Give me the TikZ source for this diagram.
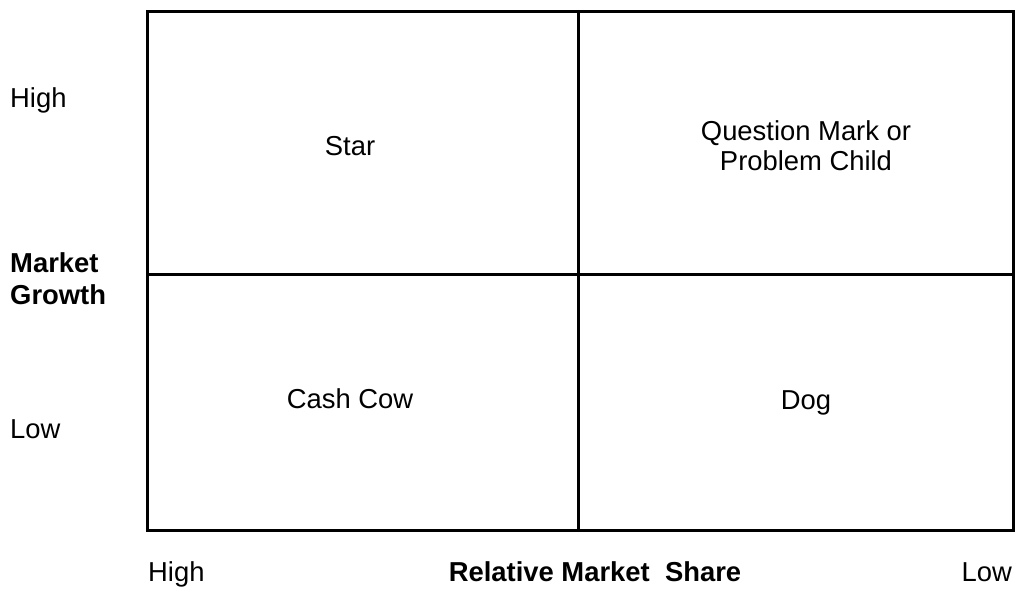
\documentclass[tikz,border=0pt]{standalone}
\usepackage{fontspec}
\setmainfont{Liberation Sans}
\begin{document}
\begin{tikzpicture}[x=1bp,y=-1bp,
  lbl/.style={font=\fontsize{27.5}{31}\selectfont, inner sep=0pt, align=center},
  lblb/.style={lbl, font=\fontsize{27.5}{33}\selectfont\bfseries},
  grid/.style={line width=3bp, black}]
\useasboundingbox (0,0) rectangle (1024,598);
\draw[grid] (147,12) rectangle (1013,530);
\coordinate (mt) at (578,12);
\coordinate (mb) at (578,530);
\coordinate (ml) at (147,274);
\coordinate (mr) at (1013,274);
\draw[grid] (mt) -- (mb);
\draw[grid] (ml) -- (mr);
\node[lbl, anchor=base west] (yhigh) at (10,108) {High};
\node[lblb, anchor=base west, align=left] (ygrowth) at (10,305) {Market\\Growth};
\node[lbl, anchor=base west] (ylow) at (10,438) {Low};
\node[lbl, anchor=base] (star) at (350,156) {Star};
\node[lbl, anchor=base] (qm) at (806,171) {Question Mark or\\Problem Child};
\node[lbl, anchor=base] (cow) at (350,408) {Cash Cow};
\node[lbl, anchor=base] (dog) at (806,409) {Dog};
\node[lbl, anchor=base west] (xhigh) at (148,581) {High};
\node[lblb, anchor=base] (xshare) at (595,581) {Relative Market\ \ Share};
\node[lbl, anchor=base east] (xlow) at (1012,581) {Low};
\end{tikzpicture}
\end{document}
